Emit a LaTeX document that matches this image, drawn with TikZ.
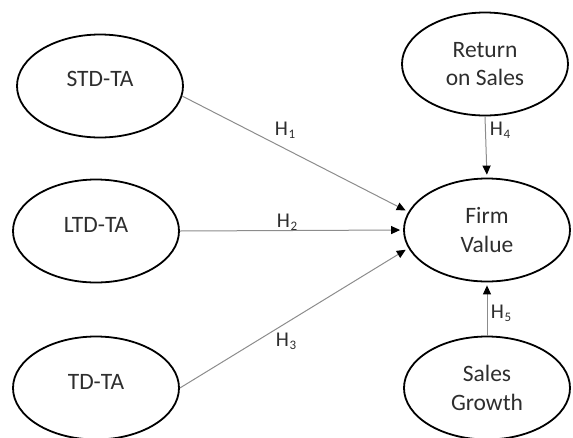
\documentclass[tikz,border=0pt]{standalone}
\usepackage{fontspec}
\setmainfont{Carlito}
\usetikzlibrary{shapes.geometric,arrows.meta}
\definecolor{txtc}{HTML}{2E2E2E}
\definecolor{linec}{HTML}{8C8C8C}
\tikzset{
  oval/.style={draw=black, line width=1.8pt, ellipse, minimum width=166pt, minimum height=103pt, inner sep=0pt,
    text=txtc, font=\fontsize{23.5}{28.5}\selectfont, align=center},
  ovaltext/.style={text=txtc, font=\fontsize{23.5}{28.5}\selectfont},
  conn/.style={draw=linec, line width=1pt, shorten >=3pt,
    -{Triangle[length=9pt,width=8pt,color=black]}},
  hlab/.style={text=txtc, font=\fontsize{21}{24}\selectfont, inner sep=0pt}
}
\newcommand{\hyp}[1]{H\kern0.5pt\raisebox{-3pt}{\fontsize{13}{13}\selectfont #1}}
\begin{document}
\begin{tikzpicture}[x=1pt,y=-1pt]
\useasboundingbox (0,0) rectangle (573,437);
\node[oval, label={[ovaltext,yshift=7pt]center:STD-TA}] (std) at (100,86) {};
\node[oval, label={[ovaltext,yshift=6pt]center:LTD-TA}] (ltd) at (96,231) {};
\node[oval, label={[ovaltext,yshift=6pt]center:TD-TA}] (td) at (96,388) {};
\node[oval] (ros) at (485,64) {Return\\on Sales};
\node[oval] (fv) at (487,230) {Firm\\Value};
\node[oval] (sg) at (487,388) {Sales\\Growth};
\draw[conn] (std.-7) -- (fv.167);
\draw[conn] (ltd.east) -- (fv.west);
\draw[conn] (td.east) -- (fv.193);
\draw[conn] (ros.south) -- (fv.north);
\draw[conn] (sg.north) -- (fv.south);
\node[hlab] (h1) at (285,130) {\hyp{1}};
\node[hlab] (h2) at (287,222) {\hyp{2}};
\node[hlab] (h3) at (286,341) {\hyp{3}};
\node[hlab] (h4) at (500,130) {\hyp{4}};
\node[hlab] (h5) at (501,313) {\hyp{5}};
\end{tikzpicture}
\end{document}
